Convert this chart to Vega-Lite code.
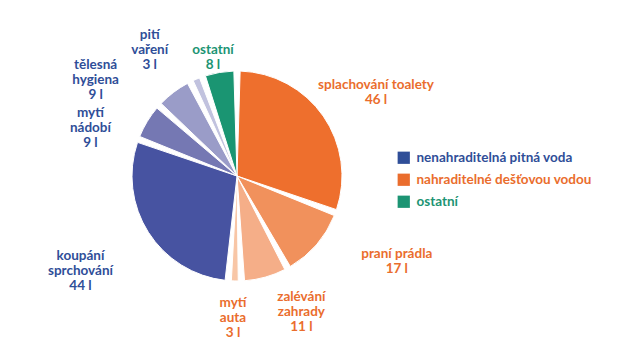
{
  "$schema": "https://vega.github.io/schema/vega-lite/v6.json",
  "width": 474,
  "height": 352,
  "autosize": {"type": "none"},
  "padding": {"left": 0, "top": 0, "right": 159, "bottom": 8},
  "background": "white",
  "config": {"view": {"stroke": null}, "text": {"font": "Lato", "fontWeight": "bold", "fontSize": 13.5, "lineHeight": 15, "lineBreak": "\n"}},
  "data": {"values": [
    {"order": 1, "name": "splachování toalety", "label": "splachování toalety\n46 l", "value": 46, "group": "nahraditelné dešťovou vodou"},
    {"order": 2, "name": "praní prádla", "label": "praní prádla\n17 l", "value": 17, "group": "nahraditelné dešťovou vodou"},
    {"order": 3, "name": "zalévání zahrady", "label": "zalévání\nzahrady\n11 l", "value": 11, "group": "nahraditelné dešťovou vodou"},
    {"order": 4, "name": "mytí auta", "label": "mytí\nauta\n3 l", "value": 3, "group": "nahraditelné dešťovou vodou"},
    {"order": 5, "name": "koupání sprchování", "label": "koupání\nsprchování\n44 l", "value": 44, "group": "nenahraditelná pitná voda"},
    {"order": 6, "name": "mytí nádobí", "label": "mytí\nnádobí\n9 l", "value": 9, "group": "nenahraditelná pitná voda"},
    {"order": 7, "name": "tělesná hygiena", "label": "tělesná\nhygiena\n9 l", "value": 9, "group": "nenahraditelná pitná voda"},
    {"order": 8, "name": "pití vaření", "label": "pití\nvaření\n3 l", "value": 3, "group": "nenahraditelná pitná voda"},
    {"order": 9, "name": "ostatní", "label": "ostatní\n8 l", "value": 8, "group": "ostatní"}
  ]},
  "encoding": {
    "theta": {"field": "value", "type": "quantitative", "stack": true},
    "order": {"field": "order", "type": "quantitative"}
  },
  "layer": [
    {
      "mark": {"type": "arc", "outerRadius": 105, "padAngle": 0.06, "stroke": "white", "strokeWidth": 1},
      "encoding": {
        "fill": {"field": "name", "type": "nominal", "legend": null,
          "scale": {"domain": ["splachování toalety", "praní prádla", "zalévání zahrady", "mytí auta", "koupání sprchování", "mytí nádobí", "tělesná hygiena", "pití vaření", "ostatní"],
                    "range": ["#ee6f2d", "#f1915c", "#f5ae88", "#f8c6a6", "#4753a1", "#7578b3", "#9a9cc8", "#c1c2de", "#1a9572"]}}
      }
    },
    {
      "mark": {"type": "text", "radius": 162, "dx": 6, "dy": 1},
      "encoding": {
        "color": {"field": "group", "type": "nominal",
          "scale": {"domain": ["nenahraditelná pitná voda", "nahraditelné dešťovou vodou", "ostatní"], "range": ["#2f4e98", "#ea6d2d", "#1c9473"]},
          "legend": {"title": null, "orient": "none", "legendX": 397, "legendY": 151, "symbolType": "square", "symbolSize": 150, "symbolStrokeWidth": 0, "symbolOpacity": 1,
            "labelFont": "Lato", "labelFontWeight": "bold", "labelFontSize": 13.5, "labelLimit": 300, "rowPadding": 7, "labelOffset": 6, "padding": 0,
            "encode": {"labels": {"update": {"fill": {"scale": "color", "field": "value"}}}}}},
        "text": {"condition": {"test": "datum.name === 'splachování toalety'", "field": "label"}, "value": ""}
      }
    },
    {
      "mark": {"type": "text", "radius": 182, "dx": 22, "dy": -41},
      "encoding": {
        "color": {"field": "group", "type": "nominal"},
        "text": {"condition": {"test": "datum.name === 'praní prádla'", "field": "label"}, "value": ""}
      }
    },
    {
      "mark": {"type": "text", "radius": 150, "dx": 24, "dy": -23},
      "encoding": {
        "color": {"field": "group", "type": "nominal"},
        "text": {"condition": {"test": "datum.name === 'zalévání zahrady'", "field": "label"}, "value": ""}
      }
    },
    {
      "mark": {"type": "text", "radius": 142, "dx": -1, "dy": -15},
      "encoding": {
        "color": {"field": "group", "type": "nominal"},
        "text": {"condition": {"test": "datum.name === 'mytí auta'", "field": "label"}, "value": ""}
      }
    },
    {
      "mark": {"type": "text", "radius": 183, "dx": -2, "dy": -18},
      "encoding": {
        "color": {"field": "group", "type": "nominal"},
        "text": {"condition": {"test": "datum.name === 'koupání sprchování'", "field": "label"}, "value": ""}
      }
    },
    {
      "mark": {"type": "text", "radius": 155, "dx": -14, "dy": 17},
      "encoding": {
        "color": {"field": "group", "type": "nominal"},
        "text": {"condition": {"test": "datum.name === 'mytí nádobí'", "field": "label"}, "value": ""}
      }
    },
    {
      "mark": {"type": "text", "radius": 171, "dx": -38, "dy": 25},
      "encoding": {
        "color": {"field": "group", "type": "nominal"},
        "text": {"condition": {"test": "datum.name === 'tělesná hygiena'", "field": "label"}, "value": ""}
      }
    },
    {
      "mark": {"type": "text", "radius": 153, "dx": -28, "dy": 0},
      "encoding": {
        "color": {"field": "group", "type": "nominal"},
        "text": {"condition": {"test": "datum.name === 'pití vaření'", "field": "label"}, "value": ""}
      }
    },
    {
      "mark": {"type": "text", "radius": 120, "dx": -4, "dy": -8},
      "encoding": {
        "color": {"field": "group", "type": "nominal"},
        "text": {"condition": {"test": "datum.name === 'ostatní'", "field": "label"}, "value": ""}
      }
    }
  ]
}
